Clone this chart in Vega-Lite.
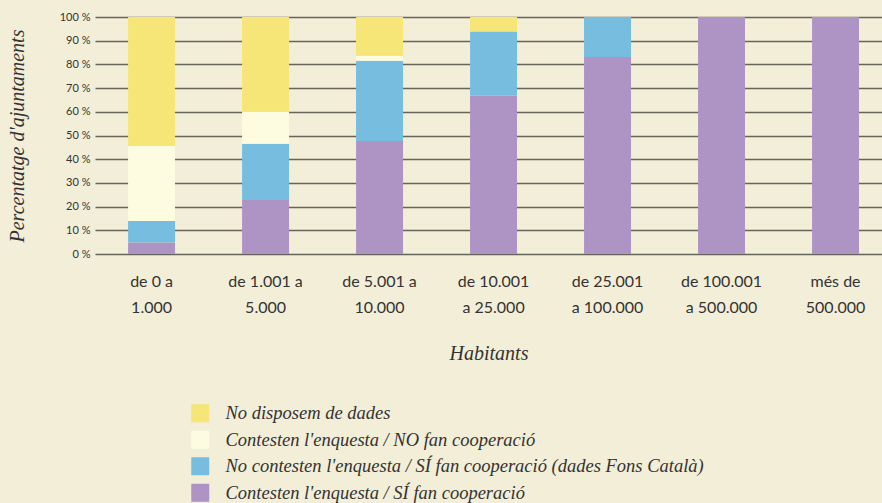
{
  "$schema": "https://vega.github.io/schema/vega-lite/v6.json",
  "autosize": {"type": "none"},
  "width": 787,
  "height": 237,
  "padding": {"left": 95, "top": 17, "right": 0, "bottom": 249},
  "background": "#f3eed7",
  "config": {"view": {"stroke": null}},
  "data": {
    "values": [
      {"grup": "de 0 a|1.000", "cat": "Contesten l'enquesta / SÍ fan cooperació", "v": 4.9, "o": 1},
      {"grup": "de 0 a|1.000", "cat": "No contesten l'enquesta / SÍ fan cooperació (dades Fons Català)", "v": 9.0, "o": 2},
      {"grup": "de 0 a|1.000", "cat": "Contesten l'enquesta / NO fan cooperació", "v": 31.7, "o": 3},
      {"grup": "de 0 a|1.000", "cat": "No disposem de dades", "v": 54.4, "o": 4},
      {"grup": "de 1.001 a|5.000", "cat": "Contesten l'enquesta / SÍ fan cooperació", "v": 22.8, "o": 1},
      {"grup": "de 1.001 a|5.000", "cat": "No contesten l'enquesta / SÍ fan cooperació (dades Fons Català)", "v": 23.7, "o": 2},
      {"grup": "de 1.001 a|5.000", "cat": "Contesten l'enquesta / NO fan cooperació", "v": 13.6, "o": 3},
      {"grup": "de 1.001 a|5.000", "cat": "No disposem de dades", "v": 39.9, "o": 4},
      {"grup": "de 5.001 a|10.000", "cat": "Contesten l'enquesta / SÍ fan cooperació", "v": 47.7, "o": 1},
      {"grup": "de 5.001 a|10.000", "cat": "No contesten l'enquesta / SÍ fan cooperació (dades Fons Català)", "v": 33.8, "o": 2},
      {"grup": "de 5.001 a|10.000", "cat": "Contesten l'enquesta / NO fan cooperació", "v": 2.1, "o": 3},
      {"grup": "de 5.001 a|10.000", "cat": "No disposem de dades", "v": 16.4, "o": 4},
      {"grup": "de 10.001|a 25.000", "cat": "Contesten l'enquesta / SÍ fan cooperació", "v": 66.8, "o": 1},
      {"grup": "de 10.001|a 25.000", "cat": "No contesten l'enquesta / SÍ fan cooperació (dades Fons Català)", "v": 27.1, "o": 2},
      {"grup": "de 10.001|a 25.000", "cat": "No disposem de dades", "v": 6.1, "o": 4},
      {"grup": "de 25.001|a 100.000", "cat": "Contesten l'enquesta / SÍ fan cooperació", "v": 83.1, "o": 1},
      {"grup": "de 25.001|a 100.000", "cat": "No contesten l'enquesta / SÍ fan cooperació (dades Fons Català)", "v": 16.9, "o": 2},
      {"grup": "de 100.001|a 500.000", "cat": "Contesten l'enquesta / SÍ fan cooperació", "v": 100, "o": 1},
      {"grup": "més de|500.000", "cat": "Contesten l'enquesta / SÍ fan cooperació", "v": 100, "o": 1}
    ]
  },
  "mark": {"type": "bar"},
  "encoding": {
    "x": {
      "field": "grup",
      "type": "nominal",
      "sort": null,
      "scale": {"paddingInner": 0.588, "paddingOuter": 0.246, "align": 0.59},
      "axis": {
        "title": "Habitants",
        "titleFont": "Liberation Serif",
        "titleFontStyle": "italic",
        "titleFontWeight": "normal",
        "titleFontSize": 20,
        "titleColor": "#333333",
        "titlePadding": 28,
        "labelAngle": 0,
        "labelExpr": "split(datum.label, '|')",
        "labelFont": "Lato",
        "labelFontSize": 16,
        "labelColor": "#333333",
        "labelLineHeight": 26,
        "labelPadding": 19,
        "ticks": false,
        "domain": false
      }
    },
    "y": {
      "field": "v",
      "type": "quantitative",
      "stack": "zero",
      "scale": {"domain": [0, 100], "nice": false},
      "axis": {
        "title": "Percentatge d'ajuntaments",
        "titleFont": "Liberation Serif",
        "titleFontStyle": "italic",
        "titleFontWeight": "normal",
        "titleFontSize": 20,
        "titleColor": "#333333",
        "titlePadding": 32,
        "values": [0, 10, 20, 30, 40, 50, 60, 70, 80, 90, 100],
        "labelExpr": "datum.value + ' %'",
        "labelFont": "Lato",
        "labelFontSize": 11,
        "labelColor": "#333333",
        "labelPadding": 5,
        "ticks": false,
        "domain": false,
        "grid": true,
        "gridColor": "#66655b",
        "gridWidth": 1.5,
        "zindex": 0
      }
    },
    "color": {
      "field": "cat",
      "type": "nominal",
      "scale": {
        "domain": [
          "No disposem de dades",
          "Contesten l'enquesta / NO fan cooperació",
          "No contesten l'enquesta / SÍ fan cooperació (dades Fons Català)",
          "Contesten l'enquesta / SÍ fan cooperació"
        ],
        "range": ["#f6e577", "#fdfbe0", "#77bde0", "#ae93c5"]
      },
      "legend": {
        "title": null,
        "orient": "none",
        "legendX": 96,
        "legendY": 387,
        "symbolType": "square",
        "symbolSize": 324,
        "symbolStrokeWidth": 0,
        "symbolOpacity": 1,
        "rowPadding": 7.5,
        "labelFont": "Liberation Serif",
        "labelFontStyle": "italic",
        "labelFontSize": 18.5,
        "labelColor": "#333333",
        "labelOffset": 16,
        "labelLimit": 700
      }
    },
    "order": {"field": "o", "type": "quantitative", "sort": "ascending"}
  }
}
